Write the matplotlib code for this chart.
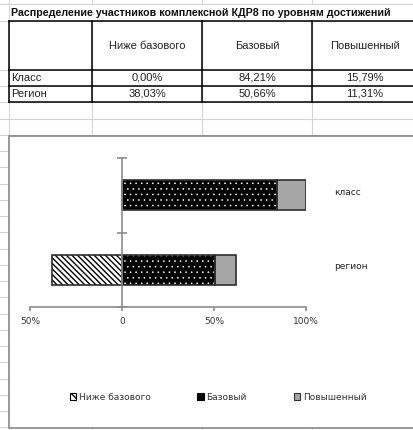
import numpy as np
import matplotlib
matplotlib.use('Agg')
import matplotlib.pyplot as plt
from matplotlib.patches import Patch, Rectangle
from matplotlib.ticker import FuncFormatter

# данные таблицы / диаграммы
title = 'Распределение участников комплексной КДР8 по уровням достижений'
levels = ['Ниже базового', 'Базовый', 'Повышенный']
rows = ['Класс', 'Регион']
cats = ['класс', 'регион']
below = [0.0, 38.03]
base = [84.21, 50.66]
high = [15.79, 11.31]

W, H = 413, 430
fig = plt.figure(figsize=(W / 100, H / 100), dpi=100)

# фон - лист Excel
bg = fig.add_axes([0, 0, 1, 1])
bg.set_xlim(0, W)
bg.set_ylim(H, 0)
bg.axis('off')

grid_c = '#d4d4d4'
col_x = [9, 92, 202, 312]
row_y = [4, 21, 70, 86, 102] + list(np.arange(118.5, 432, 16.25))
for y in row_y:
    bg.plot([0, W], [y, y], color=grid_c, lw=0.8, zorder=0)
for x in col_x:
    bg.plot([x, x], [21, H], color=grid_c, lw=0.8, zorder=0)
    bg.plot([x, x], [0, 4], color=grid_c, lw=0.8, zorder=0)
bg.plot([9, 9], [4, 21], color=grid_c, lw=0.8, zorder=0)

# рамка таблицы
tab_x = [9, 92, 202, 312]
tab_y = [21, 70, 86, 102]
for y in tab_y:
    bg.plot([9, W + 5], [y, y], color='black', lw=1.1, zorder=2)
for x in tab_x:
    bg.plot([x, x], [21, 102], color='black', lw=1.1, zorder=2)

tfont = 'Liberation Sans'
bg.text(11, 13, title, fontsize=7.7, fontweight='bold', family=tfont,
        va='center', ha='left', color='#111111')
centers = [147, 257, 365]
for cx, lab in zip(centers, levels):
    bg.text(cx, 46, lab, fontsize=8, family=tfont, ha='center', va='center', color='#222222')
for i, name in enumerate(rows):
    yy = 78 + 16 * i
    bg.text(11, yy, name, fontsize=8, family=tfont, ha='left', va='center', color='#222222')
    vals = [below[i], base[i], high[i]]
    for cx, v in zip(centers, vals):
        bg.text(cx, yy, f'{v:.2f}%'.replace('.', ','), fontsize=8, family=tfont,
                ha='center', va='center', color='#222222')

# область диаграммы
bg.add_patch(Rectangle((8.5, 135.5), W + 20, 292.5, facecolor='white',
                       edgecolor='#878787', lw=1.2, zorder=3))

# сама диаграмма
ax = fig.add_axes([30 / W, (H - 307) / H, 276 / W, 149 / H])
ax.set_zorder(5)
ax.patch.set_alpha(0)
ypos = np.arange(len(cats))[::-1]
b_below = -np.array(below) / 100
b_base = np.array(base) / 100
b_high = np.array(high) / 100
bh = 0.4
edge = '#2e2e2e'

ax.barh(ypos, b_below, height=bh, color='white', edgecolor='black', hatch='\\\\\\\\\\\\', lw=0)
with plt.rc_context({'hatch.linewidth': 0.4}):
    ax.barh(ypos, b_base, height=bh, color='black', edgecolor='white', hatch='...', lw=0)
ax.barh(ypos, b_high, left=b_base, height=bh, color='#a6a6a6', lw=0)
for arr, left in [(b_below, 0), (b_base, 0), (b_high, b_base)]:
    ax.barh(ypos, arr, left=left, height=bh, fill=False, edgecolor=edge, lw=1.2)

ax.set_xlim(-0.5, 1.0)
ax.set_ylim(-0.5, 1.5)
ax.spines['top'].set_visible(False)
ax.spines['right'].set_visible(False)
ax.spines['left'].set_position(('data', 0))
for s in ['left', 'bottom']:
    ax.spines[s].set_color('#8c8c8c')
    ax.spines[s].set_linewidth(1.2)
ax.set_yticks([-0.5, 0.5, 1.5])
ax.set_yticklabels([])
ax.tick_params(axis='y', direction='inout', length=7, color='#8c8c8c', width=1.2)
ax.set_xticks([-0.5, 0, 0.5, 1.0])
ax.xaxis.set_major_formatter(FuncFormatter(lambda v, p: '0' if v == 0 else f'{abs(v) * 100:.0f}%'))
ax.tick_params(axis='x', direction='out', length=3, color='#8c8c8c', width=1.2,
               labelsize=6.5, labelcolor='#333333', pad=4)

for y, c in zip(ypos, cats):
    ax.text(1.153, y + 0.04, c, fontsize=6.5, color='#222222', va='center', ha='left')

handles = [
    Patch(facecolor='white', edgecolor='black', hatch='\\\\\\', lw=0.8),
    Patch(facecolor='black', edgecolor='black', lw=0.8),
    Patch(facecolor='#a6a6a6', edgecolor='#333333', lw=0.8),
]
leg = fig.legend(handles, levels, loc='center', bbox_to_anchor=(218 / W, 1 - 397 / H),
                 ncol=3, frameon=False, fontsize=6.5, handlelength=0.7, handleheight=0.7,
                 handletextpad=0.3, columnspacing=5.2)
for t in leg.get_texts():
    t.set_color('#333333')
leg.set_zorder(6)

fig.savefig('out.png', dpi=100)
